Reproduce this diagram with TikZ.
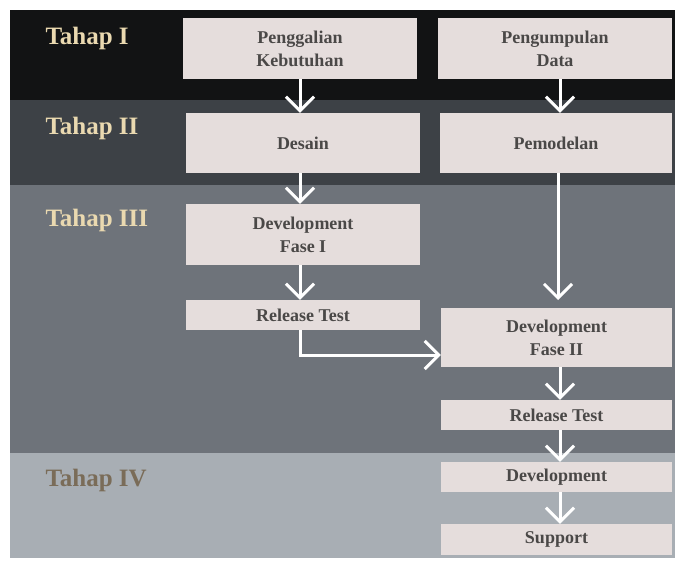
\documentclass[tikz,border=0pt]{standalone}
\usepackage{fontspec}
\setmainfont{Liberation Serif}
\usetikzlibrary{arrows.meta}
\definecolor{bandA}{HTML}{121314}
\definecolor{bandB}{HTML}{3D4146}
\definecolor{bandC}{HTML}{6E737A}
\definecolor{bandD}{HTML}{A8AEB4}
\definecolor{boxfill}{HTML}{E5DDDC}
\definecolor{boxtext}{HTML}{4A4847}
\definecolor{tahapA}{HTML}{EAD9B0}
\definecolor{tahapD}{HTML}{7A6C58}
\tikzset{
  box/.style={fill=boxfill, draw=none, inner sep=0pt, text=boxtext, font=\bfseries\fontsize{18}{23}\selectfont, align=center},
  tahap/.style={font=\bfseries\fontsize{25}{27}\selectfont, anchor=west, text=tahapA},
  flow/.style={draw=white, line width=3pt, -{Straight Barb[length=14pt,width=28pt]}}
}
\begin{document}
\begin{tikzpicture}[x=1pt,y=-1pt]
\useasboundingbox (0,0) rectangle (675,562);
\fill[white] (0,0) rectangle (675,562);
% bands
\fill[bandA] (10,10) rectangle (675,100);
\fill[bandB] (10,100) rectangle (675,185);
\fill[bandC] (10,185) rectangle (675,453);
\fill[bandD] (10,453) rectangle (675,558);
% labels
\node[tahap] (t1) at (42,38) {Tahap I};
\node[tahap] (t2) at (42,128) {Tahap II};
\node[tahap] (t3) at (42,220) {Tahap III};
\node[tahap, text=tahapD] (t4) at (42,480) {Tahap IV};
% boxes
\node[box, minimum width=234pt, minimum height=61pt] (pk) at (300,48.5) {Penggalian\\Kebutuhan};
\node[box, minimum width=234pt, minimum height=61pt] (pd) at (555,48.5) {Pengumpulan\\Data};
\node[box, minimum width=234pt, minimum height=60pt] (ds) at (303,143) {Desain};
\node[box, minimum width=232pt, minimum height=60pt] (pm) at (556,143) {Pemodelan};
\node[box, minimum width=234pt, minimum height=61pt] (d1) at (303,234.5) {Development\\Fase I};
\node[box, minimum width=234pt, minimum height=30pt] (r1) at (303,315) {Release Test};
\node[box, minimum width=231pt, minimum height=59pt] (d2) at (556.5,337.5) {Development\\Fase II};
\node[box, minimum width=231pt, minimum height=30pt] (r2) at (556.5,415) {Release Test};
\node[box, minimum width=231pt, minimum height=30pt] (dv) at (556.5,477) {Development};
\node[box, minimum width=231pt, minimum height=31pt] (sp) at (556.5,539.5) {Support};
% arrows
\draw[flow] (pk.south -| 300,0) -- (ds.north -| 300,0);
\draw[flow] (pd.south -| 560,0) -- (pm.north -| 560,0);
\draw[flow] (ds.south -| 300,0) -- (d1.north -| 300,0);
\coordinate (pmt) at (558,300);
\draw[flow] (pm.south -| 558,0) -- (pmt);
\draw[flow] (d1.south -| 300,0) -- (r1.north -| 300,0);
\coordinate (bend) at (300,355);
\draw[flow] (r1.south -| 300,0) -- (bend) -- (bend -| d2.west);
\draw[flow] (d2.south -| 560,0) -- (r2.north -| 560,0);
\draw[flow] (r2.south -| 560,0) -- (dv.north -| 560,0);
\draw[flow] (dv.south -| 560,0) -- (sp.north -| 560,0);
\end{tikzpicture}
\end{document}
